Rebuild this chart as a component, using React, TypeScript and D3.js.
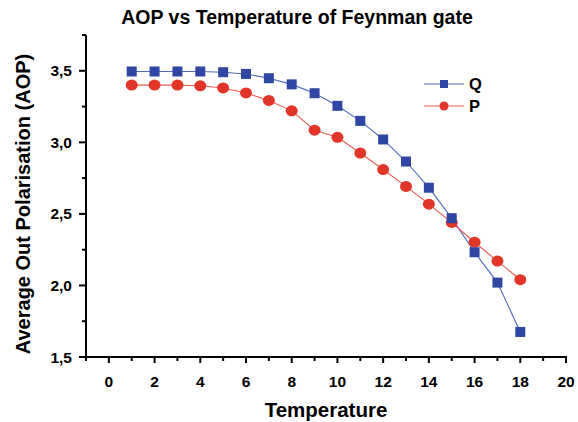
import React from 'react';
import * as d3 from 'd3';

const temps = [1, 2, 3, 4, 5, 6, 7, 8, 9, 10, 11, 12, 13, 14, 15, 16, 17, 18];
const qValues = [3.495, 3.495, 3.495, 3.495, 3.49, 3.478, 3.448, 3.405, 3.343, 3.255, 3.15, 3.02, 2.866, 2.683, 2.47, 2.232, 2.02, 1.675];
const pValues = [3.4, 3.4, 3.4, 3.395, 3.38, 3.345, 3.293, 3.22, 3.085, 3.035, 2.925, 2.81, 2.692, 2.568, 2.44, 2.302, 2.17, 2.04];
const xTicks = [0, 2, 4, 6, 8, 10, 12, 14, 16, 18, 20];
const yTicks = [1.5, 2.0, 2.5, 3.0, 3.5];

const W = 578;
const H = 422;
const font = '"Liberation Sans", Arial, sans-serif';
const blue = '#2f46a3';
const blueLine = '#5068bd';
const red = '#e2352a';
const redLine = '#ea5a50';

const App = () => {
  const x = d3.scaleLinear().domain([-1, 20]).range([86, 566]);
  const y = d3.scaleLinear().domain([1.5, 3.75]).range([357, 35]);

  const line = d3.line<number>()
    .x((d, i) => x(temps[i]))
    .y(d => y(d));

  const minorX = d3.range(-1, 21, 1).filter(v => !xTicks.includes(v));
  const minorY = [1.75, 2.25, 2.75, 3.25, 3.75];
  const fmt = (v: number) => v.toFixed(1).replace('.', ',');

  return (
    <div style={{ position: 'absolute', left: 0, top: 0 }}>
      <svg width={W} height={H} style={{ display: 'block', background: '#fff' }} fontFamily={font}>
        <text x={297} y={24} textAnchor="middle" fontSize={19.5} fontWeight="bold">
          AOP vs Temperature of Feynman gate
        </text>

        {/* lines */}
        <path d={line(qValues) || ''} fill="none" stroke={blueLine} strokeWidth={1.1} />
        <path d={line(pValues) || ''} fill="none" stroke={redLine} strokeWidth={1.1} />

        {pValues.map((v, i) => (
          <ellipse key={'p' + i} cx={x(temps[i])} cy={y(v)} rx={6} ry={5.5} fill={red} />
        ))}
        {qValues.map((v, i) => (
          <rect key={'q' + i} x={x(temps[i]) - 5} y={y(v) - 5} width={10} height={10} fill={blue} />
        ))}

        {/* axes */}
        <line x1={x(-1)} x2={x(20) + 1} y1={y(1.5)} y2={y(1.5)} stroke="#000" strokeWidth={2} />
        <line x1={x(-1)} x2={x(-1)} y1={y(1.5) + 1} y2={y(3.75)} stroke="#000" strokeWidth={2} />

        {xTicks.map(t => (
          <g key={'xt' + t}>
            <line x1={x(t)} x2={x(t)} y1={y(1.5)} y2={y(1.5) + 6} stroke="#000" strokeWidth={2} />
            <text x={x(t)} y={387} textAnchor="middle" fontSize={15.5} fontWeight="bold">{t}</text>
          </g>
        ))}
        {minorX.map(t => (
          <line key={'xm' + t} x1={x(t)} x2={x(t)} y1={y(1.5)} y2={y(1.5) + 4} stroke="#000" strokeWidth={2} />
        ))}

        {yTicks.map(t => (
          <g key={'yt' + t}>
            <line x1={x(-1) - 7} x2={x(-1)} y1={y(t)} y2={y(t)} stroke="#000" strokeWidth={2} />
            <text x={72} y={y(t) + 5.5} textAnchor="end" fontSize={15.5} fontWeight="bold">{fmt(t)}</text>
          </g>
        ))}
        {minorY.map(t => (
          <line key={'ym' + t} x1={x(-1) - 4} x2={x(-1)} y1={y(t)} y2={y(t)} stroke="#000" strokeWidth={2} />
        ))}

        <text x={326} y={417} textAnchor="middle" fontSize={20.5} fontWeight="bold">Temperature</text>
        <text transform={`translate(30,${204}) rotate(-90)`} textAnchor="middle" fontSize={20} fontWeight="bold">
          Average Out Polarisation (AOP)
        </text>

        {/* legend */}
        <g>
          <line x1={424} x2={464} y1={84} y2={84} stroke={blueLine} strokeWidth={1.1} />
          <rect x={440} y={80} width={8} height={8} fill={blue} />
          <text x={469} y={90} fontSize={16.5} fontWeight="bold">Q</text>
          <line x1={424} x2={464} y1={106} y2={106} stroke={redLine} strokeWidth={1.1} />
          <circle cx={444} cy={106} r={4.5} fill={red} />
          <text x={469} y={112} fontSize={16.5} fontWeight="bold">P</text>
        </g>
      </svg>
    </div>
  );
};

export default App;
